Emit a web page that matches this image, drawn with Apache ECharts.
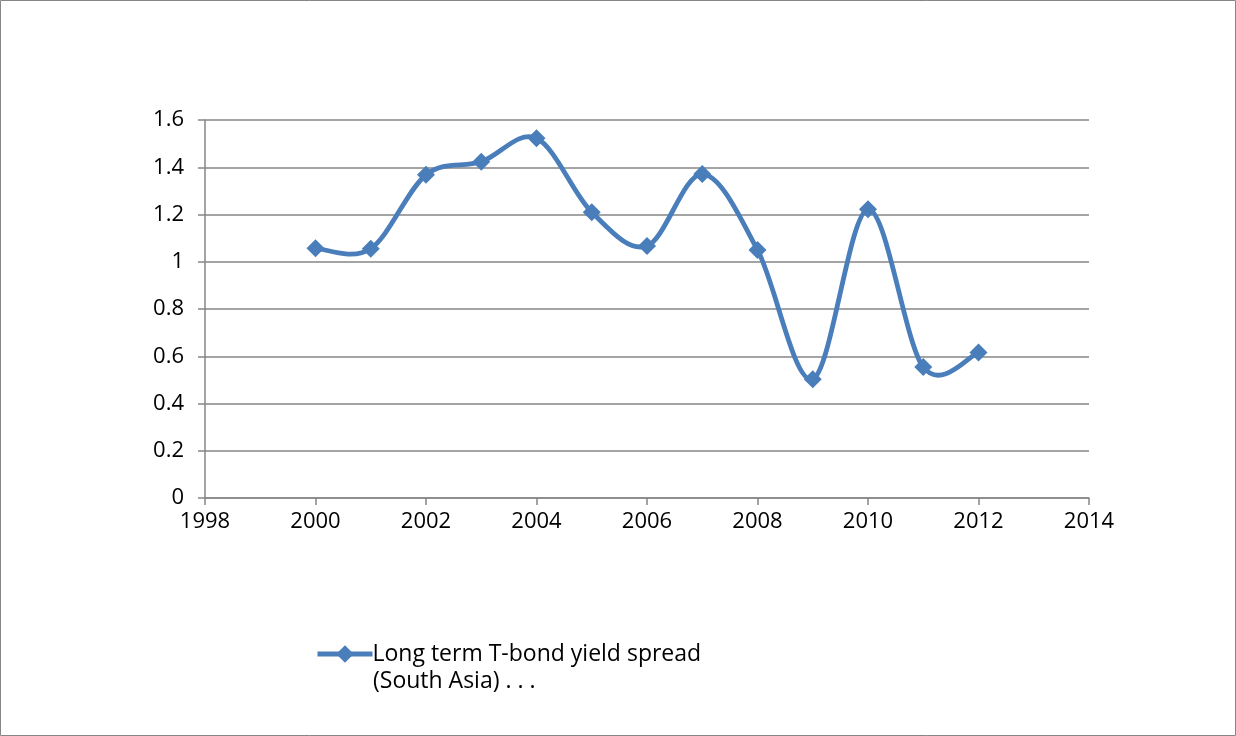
<!DOCTYPE html>
<html>
<head>
<meta charset="utf-8">
<script src="https://cdn.jsdelivr.net/npm/echarts@6/dist/echarts.min.js"></script>
<style>
html,body{margin:0;padding:0;background:#fff;}
#c{width:1236px;height:736px;}
</style>
</head>
<body>
<div id="c"></div>
<script>
const years = [2000, 2001, 2002, 2003, 2004, 2005, 2006, 2007, 2008, 2009, 2010, 2011, 2012];
const spread = [1.057, 1.055, 1.368, 1.423, 1.523, 1.210, 1.067, 1.371, 1.050, 0.503, 1.222, 0.554, 0.616];
const seriesName = 'Long term T-bond yield spread';
const seriesNameLine2 = '(South Asia) . . .';

const FONT = 'Open Sans';
const BLUE = '#4a7ebb';
const chart = echarts.init(document.getElementById('c'));

// Excel-like smoothed curve: each segment is a cubic Bezier (Catmull-Rom style),
// built in pixel space from the data through the chart's own coordinate system.
function renderSegment(params, api) {
  const i = params.dataIndex;
  const n = years.length;
  if (i >= n - 1) return null;
  const P = k => api.coord([years[Math.max(0, Math.min(n - 1, k))], spread[Math.max(0, Math.min(n - 1, k))]]);
  const p0 = P(i - 1), p1 = P(i), p2 = P(i + 1), p3 = P(i + 2);
  const t = 1 / 6;
  const c1 = [p1[0] + (p2[0] - p0[0]) * t, p1[1] + (p2[1] - p0[1]) * t];
  const c2 = [p2[0] - (p3[0] - p1[0]) * t, p2[1] - (p3[1] - p1[1]) * t];
  return {
    type: 'bezierCurve',
    shape: { x1: p1[0], y1: p1[1], x2: p2[0], y2: p2[1], cpx1: c1[0], cpy1: c1[1], cpx2: c2[0], cpy2: c2[1] },
    style: { stroke: BLUE, lineWidth: 4.8, fill: null, lineCap: 'round' },
    silent: true
  };
}

chart.setOption({
  animation: false,
  textStyle: { fontFamily: FONT },
  graphic: [
    { type: 'rect', shape: { x: 0.5, y: 0.5, width: 1235, height: 735 },
      style: { fill: 'none', stroke: '#868686', lineWidth: 1 }, silent: true },
    { type: 'text', x: 373, y: 681,
      style: { text: seriesNameLine2, font: '23px "Open Sans"', fill: '#000', textVerticalAlign: 'middle' } }
  ],
  grid: { left: 205, right: 147, top: 120, bottom: 238, containLabel: false },
  legend: {
    left: 310, top: 637,
    itemWidth: 55, itemHeight: 22, itemGap: 0,
    textStyle: { fontSize: 23, lineHeight: 24, color: '#000', fontFamily: FONT, padding: [0, 0, 0, -5] },
    data: [{ name: seriesName, lineStyle: { color: BLUE, width: 5, opacity: 1 } }]
  },
  xAxis: {
    type: 'value', min: 1998, max: 2014, interval: 2,
    axisLine: { lineStyle: { color: '#868686', width: 1.5 } },
    axisTick: { show: true, length: 7, lineStyle: { color: '#868686', width: 1.5 } },
    axisLabel: { color: '#000', fontSize: 22, margin: 13, fontFamily: FONT, formatter: v => String(v) },
    splitLine: { show: false }
  },
  yAxis: {
    type: 'value', min: 0, max: 1.6, interval: 0.2,
    axisLine: { show: true, lineStyle: { color: '#868686', width: 1.5 } },
    axisTick: { show: true, length: 7, lineStyle: { color: '#868686', width: 1.5 } },
    axisLabel: { color: '#000', fontSize: 22, margin: 21, fontFamily: FONT,
      formatter: v => String(Math.round(v * 10) / 10) },
    splitLine: { show: true, lineStyle: { color: '#868686', width: 1.5 } }
  },
  series: [
    {
      name: 'curve',
      type: 'custom',
      renderItem: renderSegment,
      data: years.map((y, i) => [y, spread[i]]),
      encode: { x: 0, y: 1 },
      z: 2
    },
    {
      name: seriesName,
      type: 'line',
      data: years.map((y, i) => [y, spread[i]]),
      symbol: 'diamond',
      symbolSize: 18,
      showAllSymbol: true,
      lineStyle: { color: BLUE, width: 0, opacity: 0 },
      itemStyle: { color: BLUE },
      z: 3
    }
  ]
});
</script>
</body>
</html>
